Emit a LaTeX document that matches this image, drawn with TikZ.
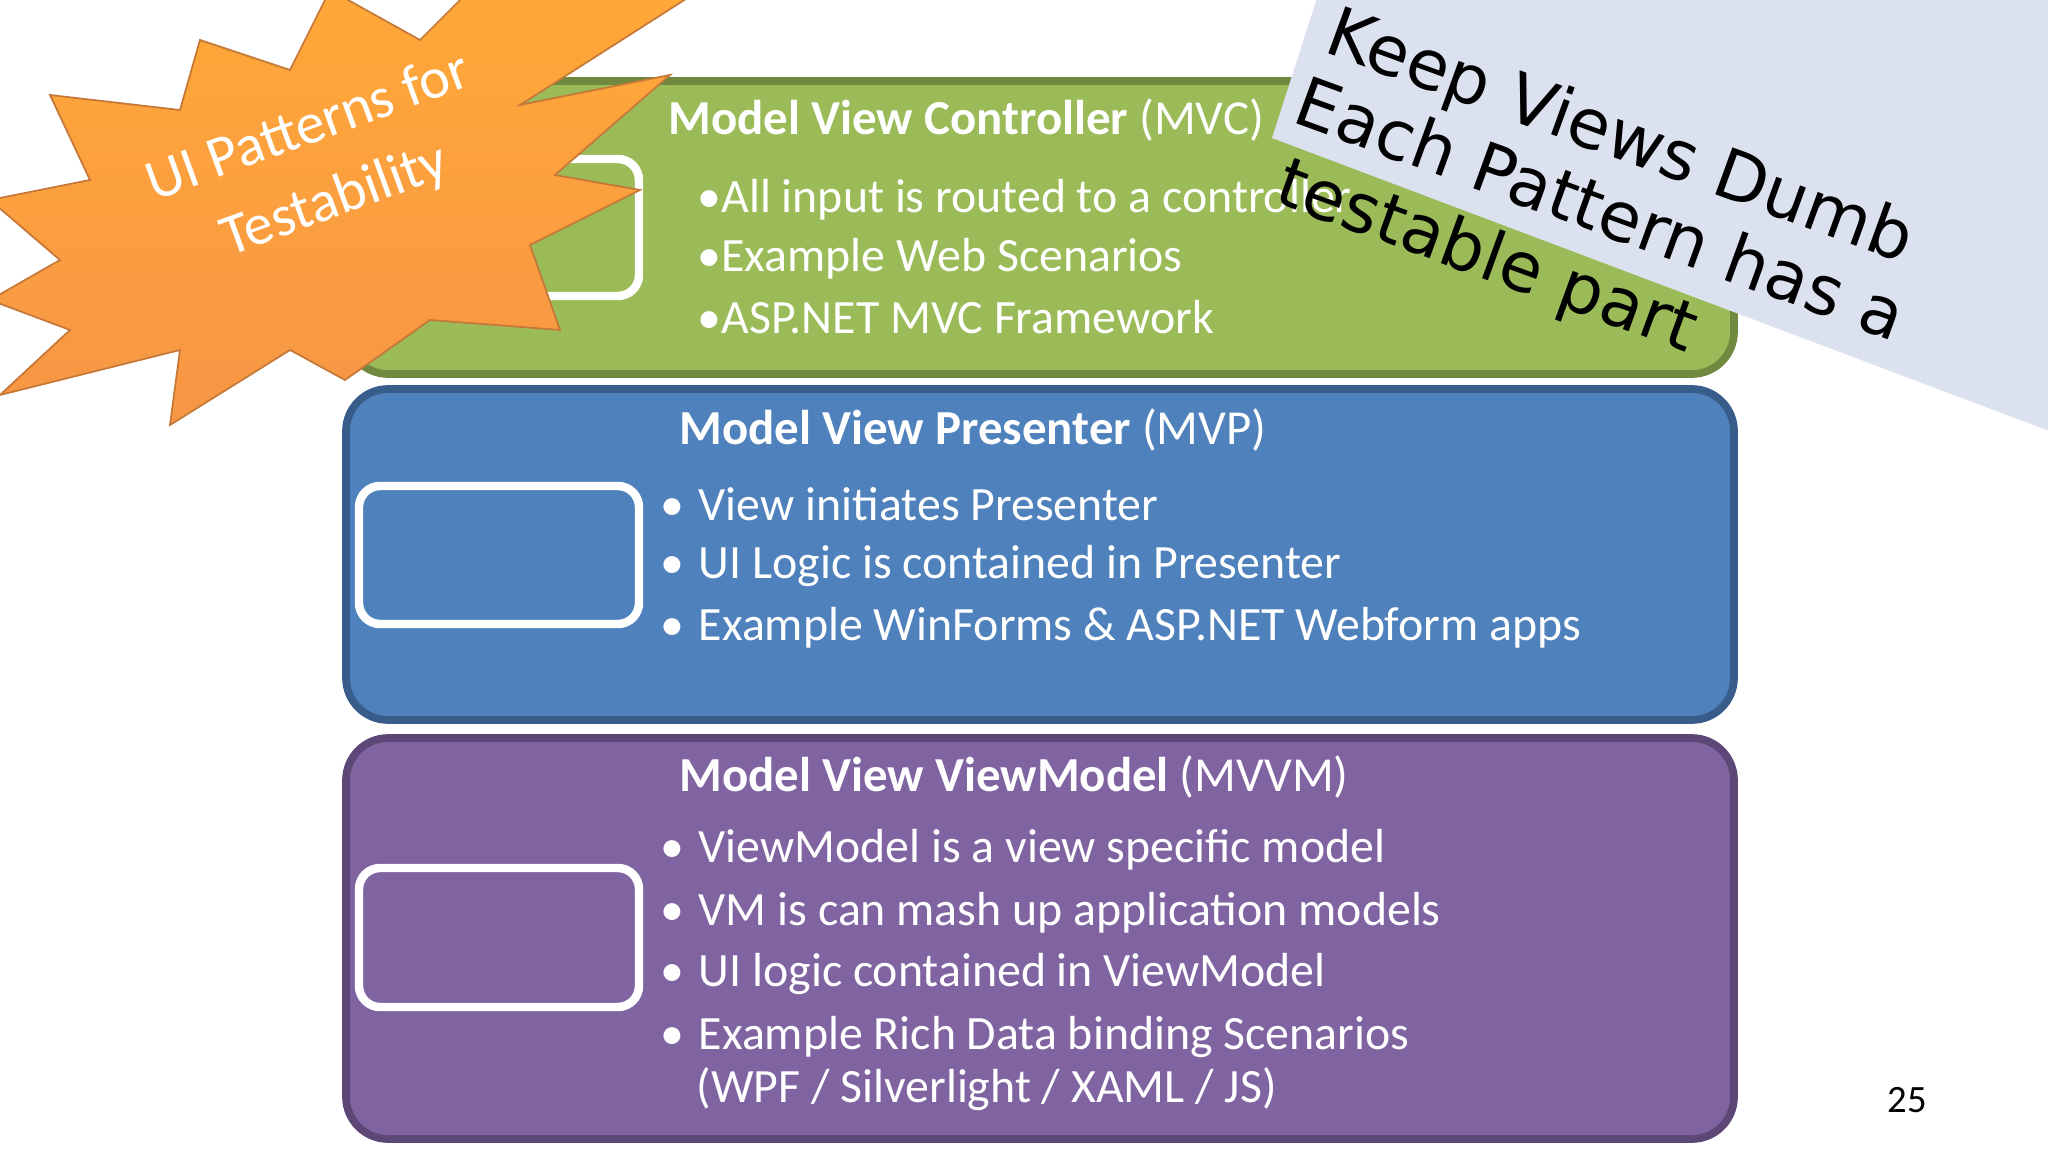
\documentclass[tikz,border=0pt]{standalone}
\usepackage{fontspec}
\setmainfont{Carlito}
\newfontfamily\hfont{DejaVu Sans}
\begin{document}
\begin{tikzpicture}[x=0.01cm,y=-0.01cm,
  panel/.style={draw, line width=2.2pt, rounded corners=12pt},
  inner/.style={draw=white, line width=2.4pt, rounded corners=6pt},
  txt/.style={anchor=west, text=white, font=\fontsize{13.6}{16}\selectfont, inner sep=0pt},
  ttl/.style={anchor=west, text=white, font=\fontsize{13.9}{17}\selectfont, inner sep=0pt},
  note/.style={font=\hfont\fontsize{19.5}{23}\selectfont, rotate=-20, inner sep=0pt}]
\definecolor{gfill}{HTML}{9BBB59}\definecolor{gline}{HTML}{71893F}
\definecolor{bfill}{HTML}{4F81BD}\definecolor{bline}{HTML}{385D8A}
\definecolor{pfill}{HTML}{8064A2}\definecolor{pline}{HTML}{5C4776}
\definecolor{orng}{HTML}{F79646}\definecolor{orng2}{HTML}{FFA838}
\definecolor{paper}{HTML}{DCE1EF}
\useasboundingbox (0,0) rectangle (2048,1152);
\fill[white] (0,0) rectangle (2048,1152);
% panels
\draw[panel, fill=gfill, draw=gline] (346,81) rectangle (1734,374);
\draw[panel, fill=bfill, draw=bline] (346,389) rectangle (1734,720);
\draw[panel, fill=pfill, draw=pline] (346,738) rectangle (1734,1139);
\draw[inner] (359,159) rectangle (639,296);
\draw[inner] (359,486) rectangle (639,624);
\draw[inner] (359,868) rectangle (639,1007);
% MVC
\node[ttl] (t1) at (668,120) {\textbf{Model View Controller} (MVC)};
\node[txt] (a1) at (697,200) {•All input is routed to a controller};
\node[txt] (a2) at (697,259) {•Example Web Scenarios};
\node[txt] (a3) at (697,317) {•ASP.NET MVC Framework};
% MVP
\node[ttl] (t2) at (679,430) {\textbf{Model View Presenter} (MVP)};
\node[txt] (b1) at (660,504) {•\hspace{0.3em}View initiates Presenter};
\node[txt] (b2) at (660,566) {•\hspace{0.3em}UI Logic is contained in Presenter};
\node[txt] (b3) at (660,628) {•\hspace{0.3em}Example WinForms \& ASP.NET Webform apps};
% MVVM
\node[ttl] (t3) at (679,777) {\textbf{Model View ViewModel} (MVVM)};
\node[txt] (c1) at (660,850) {•\hspace{0.3em}ViewModel is a view specific model};
\node[txt] (c2) at (660,913) {•\hspace{0.3em}VM is can mash up application models};
\node[txt] (c3) at (660,974) {•\hspace{0.3em}UI logic contained in ViewModel};
\node[txt] (c4) at (660,1037) {•\hspace{0.3em}Example Rich Data binding Scenarios};
\node[txt] (c5) at (696,1089) {(WPF / Silverlight / XAML / JS)};
\node[anchor=center, font=\fontsize{11}{13}\selectfont] (pg) at (1907,1100) {25};
% starburst
\shade[top color=orng2, bottom color=orng, draw=orng!80!black, line width=0.5pt]
 (700,-10) -- (520,105) -- (670,75) -- (555,175) -- (640,190) -- (530,245)
 -- (560,330) -- (430,320) -- (345,380) -- (290,350) -- (170,425) -- (180,350)
 -- (0,395) -- (70,330) -- (-10,300) -- (60,260) -- (-10,200) -- (90,180)
 -- (50,95) -- (180,110) -- (200,40) -- (290,70) -- (330,-10) -- (420,40) -- (470,-10) -- cycle;
\node[text=white, rotate=20, align=center, font=\fontsize{16.5}{22}\selectfont] (star) at (322,165) {UI Patterns for\\Testability};
% banner
\fill[paper] (1318,-5) -- (2060,-5) -- (2060,435) -- (1272,138) -- cycle;
\node[note, anchor=north west] (n1) at (1340,2) {Keep Views Dumb};
\node[note, anchor=north west] (n2) at (1308,72) {Each Pattern has a};
\node[note, anchor=north west] (n3) at (1290,152) {testable part};
\end{tikzpicture}
\end{document}
